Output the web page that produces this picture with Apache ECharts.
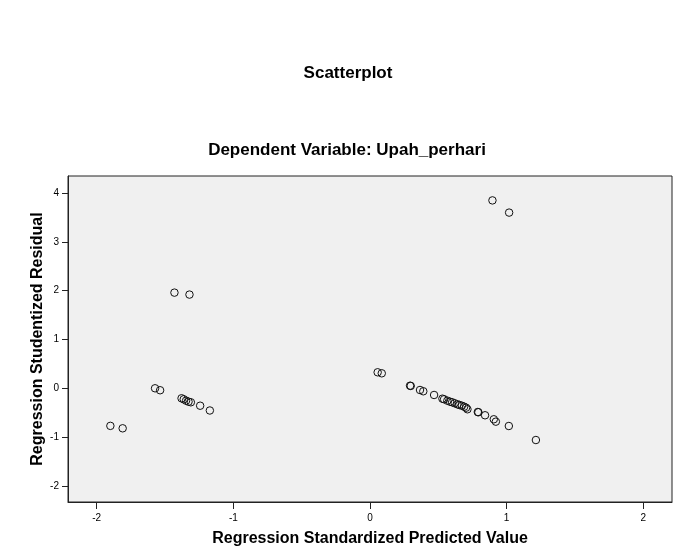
<!DOCTYPE html>
<html>
<head>
<meta charset="utf-8">
<script src="https://cdn.jsdelivr.net/npm/echarts@6/dist/echarts.min.js"></script>
<style>
html,body{margin:0;padding:0;background:#fff;}
#c{width:675px;height:549px;}
</style>
</head>
<body>
<div id="c"></div>
<script>
const xTicks = [-2, -1, 0, 1, 2];
const yTicks = [-2, -1, 0, 1, 2, 3, 4];
const predicted = [
  -1.900, -1.810, -1.573, -1.536, -1.379, -1.363, -1.346, -1.328, -1.311, -1.243, -1.172, -1.431, -1.321,
  0.056, 0.086, 0.293, 0.298, 0.366, 0.390, 0.469, 0.530, 0.542, 0.566, 0.586, 0.601, 0.620, 0.640, 0.654,
  0.672, 0.689, 0.703, 0.713, 0.789, 0.793, 0.842, 0.906, 0.921, 1.016, 1.214, 0.896, 1.018
];
const residual = [
  -0.77, -0.82, 0.00, -0.04, -0.205, -0.225, -0.254, -0.275, -0.287, -0.357, -0.455, 1.96, 1.92,
  0.328, 0.307, 0.053, 0.048, -0.035, -0.061, -0.137, -0.213, -0.225, -0.254, -0.275, -0.287, -0.307, -0.328, -0.342,
  -0.357, -0.377, -0.398, -0.430, -0.486, -0.491, -0.553, -0.635, -0.684, -0.773, -1.06, 3.85, 3.60
];
const points = predicted.map((x, i) => [x, residual[i]]);

const chart = echarts.init(document.getElementById('c'), null, {renderer: 'canvas'});
const font = 'Liberation Sans, Arial, sans-serif';
chart.setOption({
  backgroundColor: '#ffffff',
  animation: false,
  title: [
    {text: 'Scatterplot', left: 343, textAlign: 'center', top: 60,
     textStyle: {fontFamily: font, fontSize: 17, fontWeight: 'bold', color: '#000'}},
    {text: 'Dependent Variable: Upah_perhari', left: 342, textAlign: 'center', top: 137,
     textStyle: {fontFamily: font, fontSize: 17, fontWeight: 'bold', color: '#000'}}
  ],
  grid: {left: 68, right: 3, top: 176, bottom: 47, show: true, outerBoundsMode: 'none',
         containLabel: false,
         backgroundColor: '#f0f0f0', borderColor: '#222', borderWidth: 1},
  xAxis: {
    type: 'value', min: -2.21, max: 2.21,
    name: 'Regression Standardized Predicted Value', nameLocation: 'middle', nameGap: 29,
    nameMoveOverlap: false,
    nameTextStyle: {fontFamily: font, fontSize: 16, fontWeight: 'bold', color: '#000'},
    axisLine: {show: true, onZero: false, lineStyle: {color: '#222'}},
    axisTick: {show: true, length: 7, customValues: xTicks, lineStyle: {color: '#222'}},
    axisLabel: {customValues: xTicks, fontFamily: font, fontSize: 10, color: '#000', margin: 11},
    splitLine: {show: false}
  },
  yAxis: {
    type: 'value', min: -2.33, max: 4.35,
    name: 'Regression Studentized Residual', nameLocation: 'middle', nameGap: 22,
    nameMoveOverlap: false,
    nameTextStyle: {fontFamily: font, fontSize: 16, fontWeight: 'bold', color: '#000'},
    axisLine: {show: true, onZero: false, lineStyle: {color: '#222'}},
    axisTick: {show: true, length: 6, customValues: yTicks, lineStyle: {color: '#222'}},
    axisLabel: {customValues: yTicks, fontFamily: font, fontSize: 10, color: '#000', margin: 9},
    splitLine: {show: false}
  },
  series: [{
    type: 'scatter',
    data: points,
    symbol: 'circle',
    symbolSize: 7.5,
    itemStyle: {color: 'rgba(0,0,0,0)', borderColor: '#111', borderWidth: 1, opacity: 1},
    emphasis: {disabled: true}
  }]
});
</script>
</body>
</html>
